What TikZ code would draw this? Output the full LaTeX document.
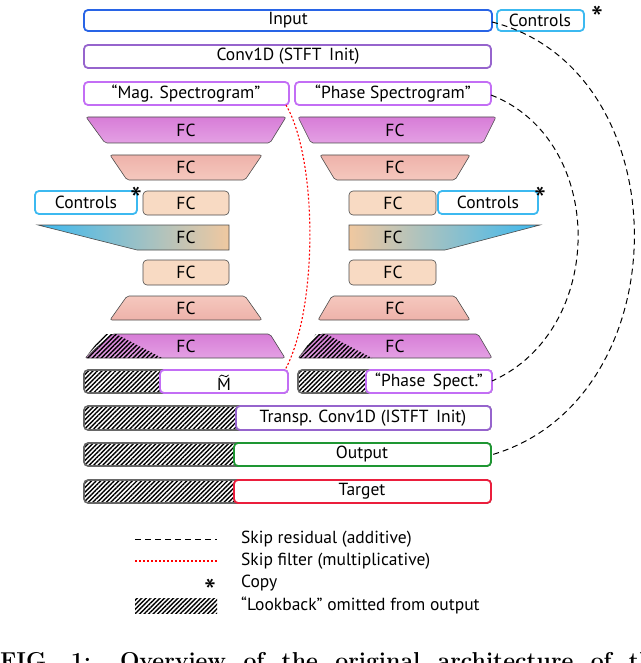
\documentclass[tikz,border=0pt]{standalone}
\usepackage{fontspec}
\setmainfont{PT Sans}
\newfontfamily\capfont{Latin Modern Roman}
\usetikzlibrary{patterns.meta}
\definecolor{cin}{RGB}{40,100,230}
\definecolor{cctl}{RGB}{60,185,240}
\definecolor{cconv}{RGB}{150,100,205}
\definecolor{cspec}{RGB}{195,110,245}
\definecolor{cmag}{RGB}{215,125,215}
\definecolor{cmag2}{RGB}{228,160,228}
\definecolor{csal}{RGB}{238,178,170}
\definecolor{csal2}{RGB}{245,200,190}
\definecolor{cpea}{RGB}{248,218,195}
\definecolor{cpea2}{RGB}{240,200,160}
\definecolor{cgrn}{RGB}{30,150,50}
\definecolor{cred}{RGB}{235,30,60}
\begin{document}
\begin{tikzpicture}[x=1pt,y=-1pt,
  every node/.style={font=\fontsize{17.5}{19}\selectfont,inner sep=1pt},
  box/.style={rounded corners=4pt,line width=1.8pt,fill=white},
  hatch/.style={rounded corners=4pt,draw=gray!80!black,line width=1.6pt,pattern={Lines[angle=45,distance=3.2pt,line width=1.4pt]}},
  trap/.style={draw=gray!60!black,line width=0.6pt,rounded corners=2pt},
  skip/.style={dash pattern=on 6pt off 4pt,line width=1pt},
  filt/.style={red,dash pattern=on 2pt off 2pt,line width=1.1pt},
  ast/.style={font=\fontsize{34}{34}\selectfont}]
\useasboundingbox (0,0) rectangle (640,663);
% top rows
\draw[box,draw=cin] (84,10) rectangle (492,31); \node (in) at (288,20.5) {Input};
\coordinate (inR) at (492,22);
\draw[box,draw=cctl] (497,10) rectangle (584,31); \node (ctl1) at (540,20.5) {Controls};
\node[ast] (a1) at (597,18) {*};
\draw[box,draw=cconv] (84,45) rectangle (491,68); \node (conv) at (288,56.5) {Conv1D (STFT\, Init)};
\draw[box,draw=cspec] (84,82) rectangle (289,105); \node (mag) at (186,93.5) {“Mag. Spectrogram”};
\draw[box,draw=cspec] (295,82) rectangle (491,105); \node (pha) at (393,93.5) {“Phase Spectrogram”};
\coordinate (magB) at (286,105); \coordinate (phaR) at (491,95);
% FC1
\shade[trap,top color=cmag,bottom color=cmag2] (86,117) -- (286,117) -- (270,143) -- (105,143) -- cycle;
\node (f1l) at (186,130) {FC};
\shade[trap,top color=cmag,bottom color=cmag2] (298,117) -- (496,117) -- (483,143) -- (311,143) -- cycle;
\node (f1r) at (395,130) {FC};
% FC2
\shade[trap,top color=csal,bottom color=csal2] (110,155) -- (262,155) -- (245,180) -- (127,180) -- cycle;
\node (f2l) at (186,167) {FC};
\shade[trap,top color=csal,bottom color=csal2] (320,155) -- (470,155) -- (455,180) -- (335,180) -- cycle;
\node (f2r) at (395,167) {FC};
% row 3
\draw[box,draw=cctl] (35,191) rectangle (137,214); \node (ctl2) at (86,202.5) {Controls};
\node[ast] (a2) at (136,199) {*};
\draw[trap,fill=cpea,rounded corners=4pt] (143,191) rectangle (229,215); \node (f3l) at (186,203) {FC};
\draw[trap,fill=cpea,rounded corners=4pt] (349,191) rectangle (436,215); \node (f3r) at (393,203) {FC};
\draw[box,draw=cctl] (438,191) rectangle (538,214); \node (ctl3) at (488,202.5) {Controls};
\node[ast] (a3) at (540,199) {*};
% row 4
\shade[left color=cctl,right color=cpea2,draw=gray!60!black,line width=0.6pt] (38,225) -- (229,225) -- (229,250) -- (137,250) -- cycle;
\node (f4l) at (186,237.5) {FC};
\shade[left color=cpea2,right color=cctl,draw=gray!60!black,line width=0.6pt] (349,225) -- (540,225) -- (445,250) -- (349,250) -- cycle;
\node (f4r) at (393,237.5) {FC};
% row 5
\draw[trap,fill=cpea,rounded corners=4pt] (143,260) rectangle (229,285); \node (f5l) at (186,272.5) {FC};
\draw[trap,fill=cpea,rounded corners=4pt] (349,260) rectangle (436,285); \node (f5r) at (393,272.5) {FC};
% row 6
\shade[trap,top color=csal2,bottom color=csal] (127,296) -- (245,296) -- (262,320) -- (110,320) -- cycle;
\node (f6l) at (186,308) {FC};
\shade[trap,top color=csal2,bottom color=csal] (332,296) -- (455,296) -- (470,320) -- (318,320) -- cycle;
\node (f6r) at (395,308) {FC};
% row 7
\shade[trap,top color=cmag,bottom color=cmag2] (112,334) -- (270,334) -- (285,358) -- (85,358) -- cycle;
\fill[pattern={Lines[angle=45,distance=3.2pt,line width=1.4pt]}] (85,358) -- (104,334) -- (116,334) -- (162,358) -- cycle;
\node (f7l) at (186,346) {FC};
\shade[trap,top color=cmag,bottom color=cmag2] (320,334) -- (478,334) -- (492,358) -- (298,358) -- cycle;
\fill[pattern={Lines[angle=45,distance=3.2pt,line width=1.4pt]}] (298,358) -- (316,334) -- (326,334) -- (372,358) -- cycle;
\node (f7r) at (395,346) {FC};
% row 8
\draw[hatch] (84,370) rectangle (288,393);
\draw[box,draw=cspec] (160,370) rectangle (288,393); \node (mt) at (224,384) {M};
\coordinate (tl) at (219.5,376.5); \coordinate (tr) at (228.5,375);
\draw[line width=0.8pt] (tl) .. controls (222,372) and (226,380) .. (tr);
\coordinate (mtT) at (285,370);
\draw[hatch] (298,370) rectangle (492,393);
\draw[box,draw=cspec] (366,370) rectangle (492,393); \node (ps) at (429,381.5) {“Phase\, Spect.”};
\coordinate (psR) at (492,381);
% row 9-11
\draw[hatch] (84,406) rectangle (491,430);
\draw[box,draw=cconv] (236,406) rectangle (491,430); \node (tc) at (363,418) {Transp. Conv1D (ISTFT\, Init)};
\draw[hatch] (84,443) rectangle (491,466);
\draw[box,draw=cgrn] (234,443) rectangle (491,466); \node (out) at (362,454.5) {Output};
\coordinate (outR) at (491,455);
\draw[hatch] (84,480) rectangle (491,503);
\draw[box,draw=cred] (234,480) rectangle (491,503); \node (tg) at (362,491.5) {Target};
% skips
\draw[skip] (inR) .. controls (682,70) and (682,400) .. (outR);
\draw[skip] (phaR) .. controls (607,140) and (607,330) .. (psR);
\draw[filt] (magB) .. controls (318,160) and (318,310) .. (mtT);
% legend
\coordinate (l1a) at (135,539); \coordinate (l1b) at (217,539);
\draw[skip] (l1a) -- (l1b);
\coordinate (l2a) at (135,561); \coordinate (l2b) at (217,561);
\draw[filt] (l2a) -- (l2b);
\node[ast] (la) at (210,591) {*};
\fill[pattern={Lines[angle=45,distance=3.2pt,line width=1.4pt]}] (135,598) rectangle (217,613);
\node[anchor=west] (t1) at (240,539) {Skip residual (additive)};
\node[anchor=west] (t2) at (240,561) {Skip filter (multiplicative)};
\node[anchor=west] (t3) at (240,583) {Copy};
\node[anchor=west] (t4) at (240,605) {“Lookback” omitted from output};
\begin{scope}
\clip (0,635) rectangle (640,663);
\node[anchor=base west,inner sep=0pt,font=\capfont\bfseries\fontsize{23}{25}\selectfont] (cap) at (0,668) {\makebox[665pt][s]{FIG. 1: Overview of the original architecture of the}};
\end{scope}
\end{tikzpicture}
\end{document}
